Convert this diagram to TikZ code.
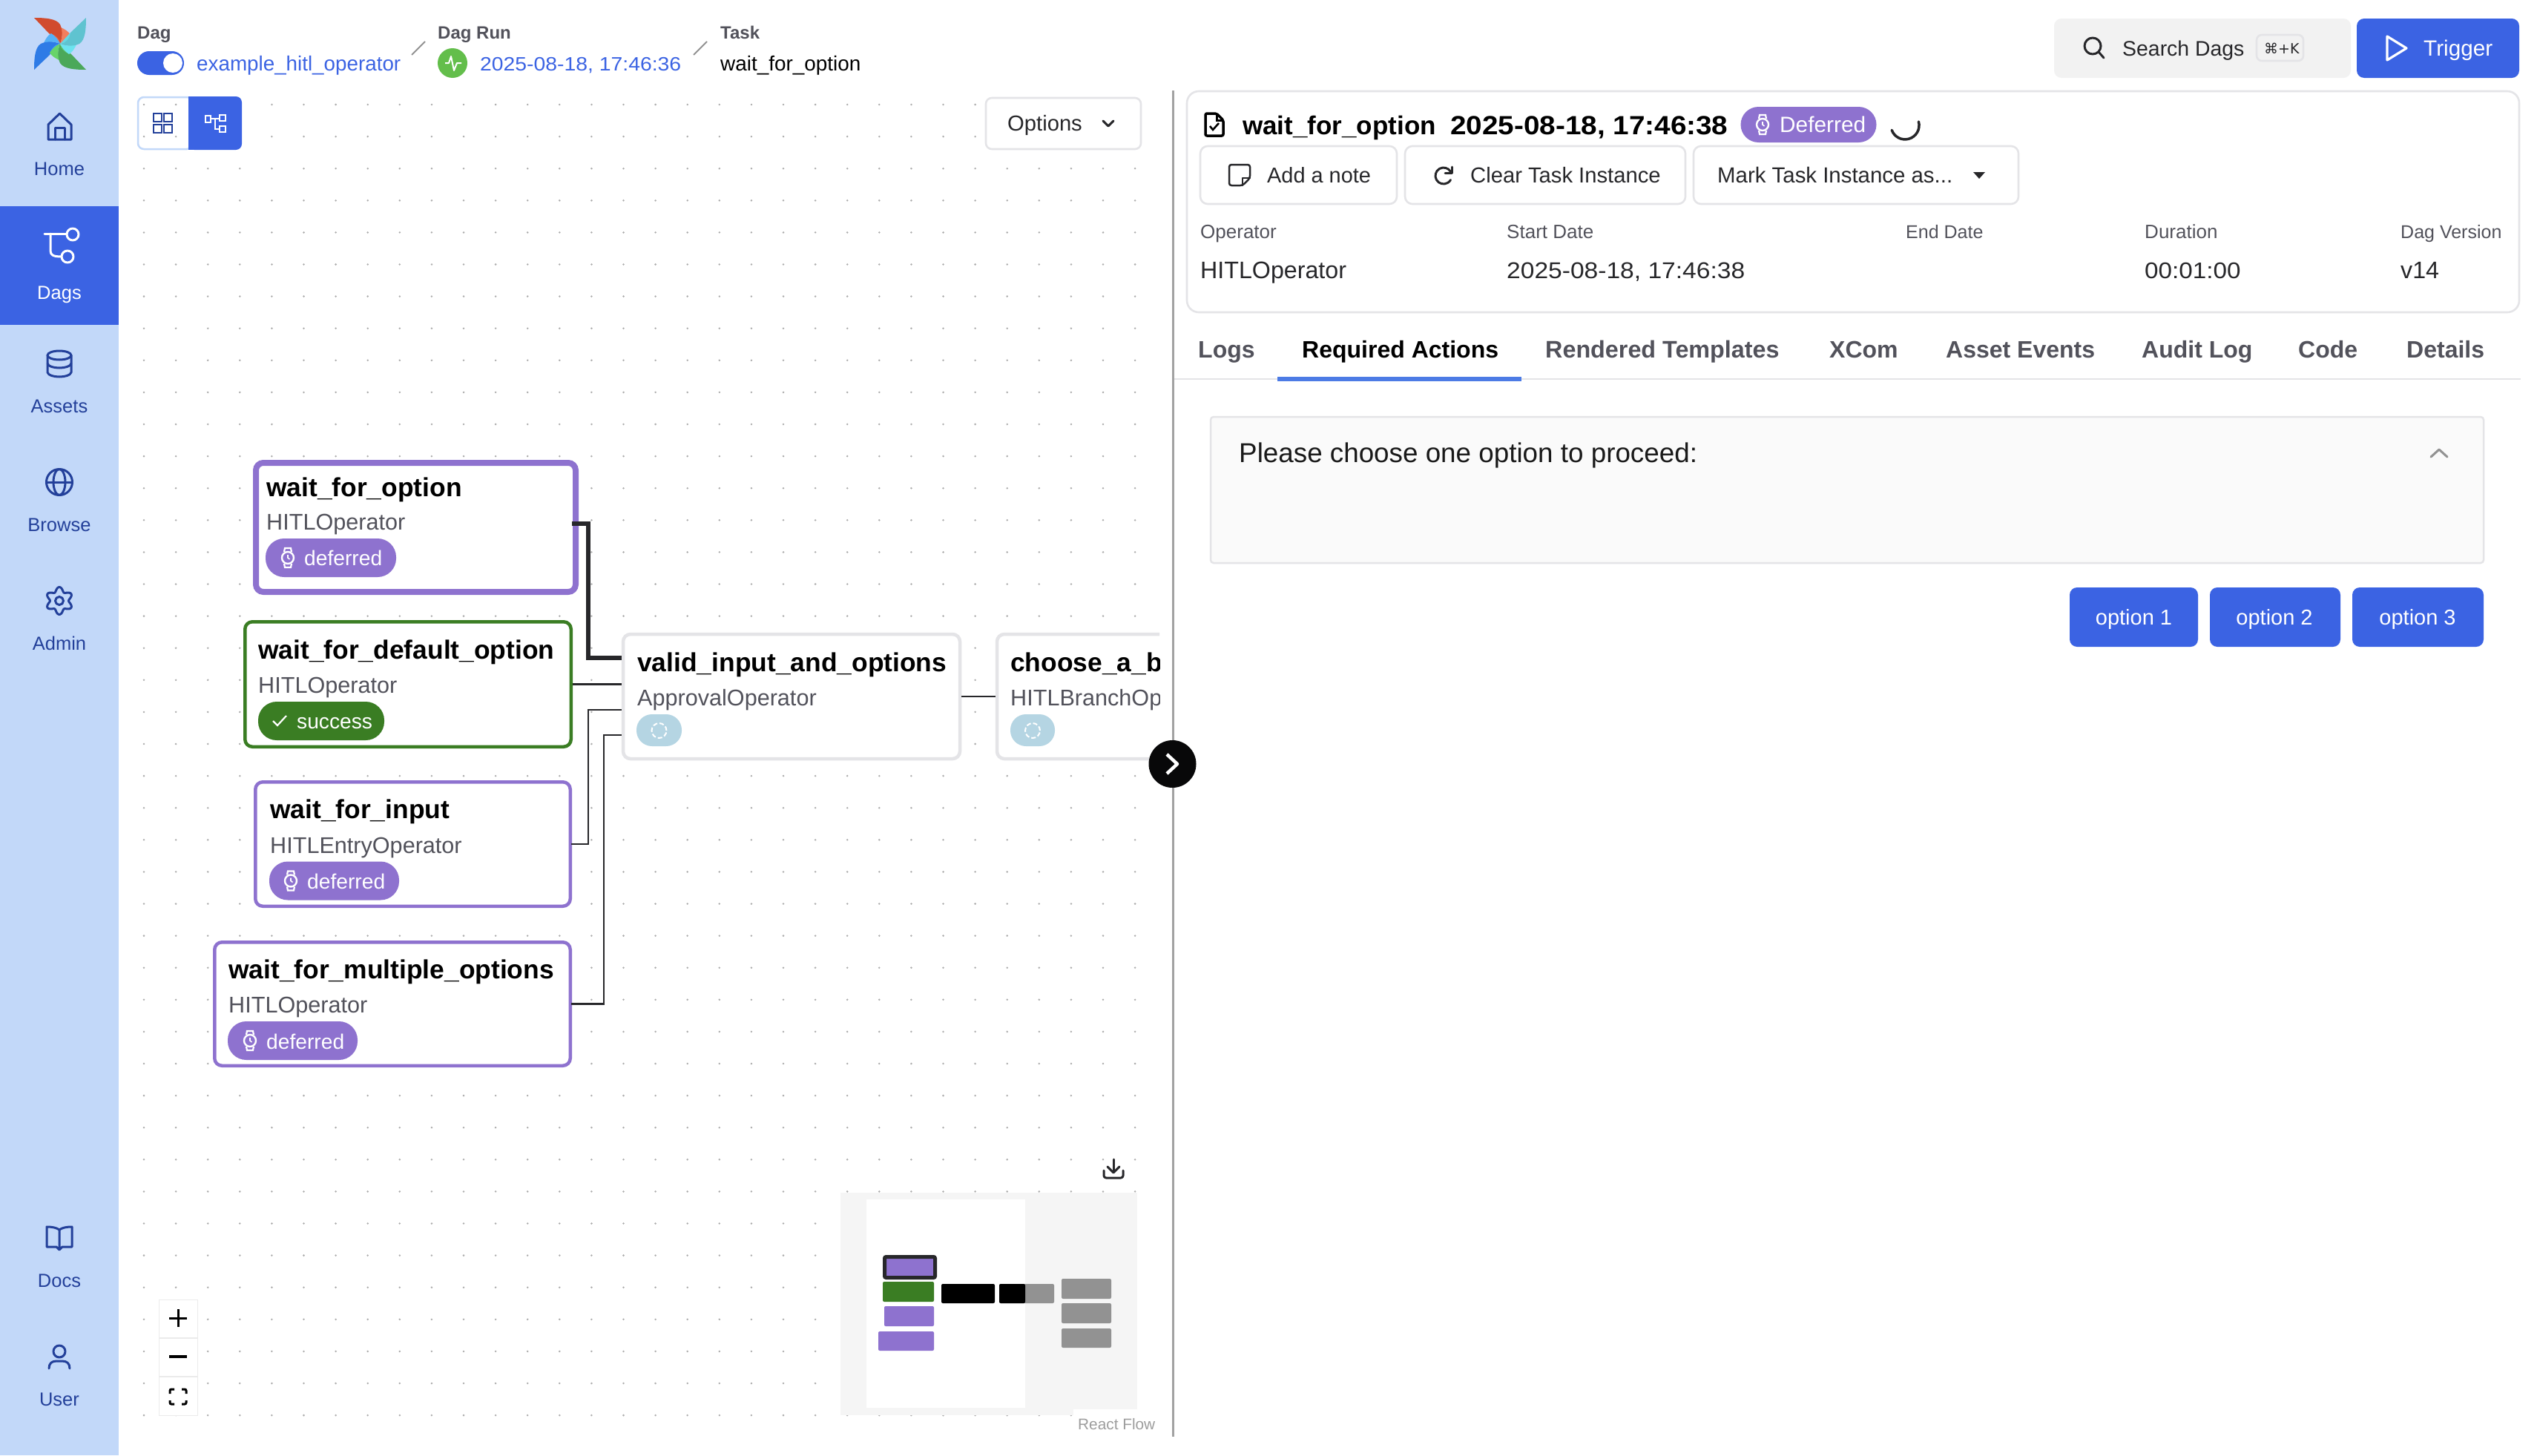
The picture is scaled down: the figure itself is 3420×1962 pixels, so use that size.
\documentclass[tikz,border=0pt]{standalone}
\usepackage{fontspec}
\usepackage{xcolor}
\usepackage{tikz}
\usetikzlibrary{positioning,calc}
\setmainfont{Liberation Sans}
\newfontfamily\widefont[FakeStretch=1.09]{Liberation Sans}
\newfontfamily\symfont{DejaVu Sans}
\definecolor{SideBlue}{HTML}{C2D8F9}
\definecolor{SideInk}{HTML}{23409A}
\definecolor{MainBlue}{HTML}{3B63E3}
\definecolor{TabBlue}{HTML}{4C7BE5}
\definecolor{DeferPurple}{HTML}{8E72CF}
\definecolor{GoodGreen}{HTML}{3A7D23}
\definecolor{PulseGreen}{HTML}{63BE4B}
\definecolor{PaleLine}{HTML}{E4E4E7}
\definecolor{SoftInk}{HTML}{52525B}
\definecolor{DarkInk}{HTML}{27272A}
\definecolor{MapGray}{HTML}{929292}
\definecolor{StatusBlue}{HTML}{B5D5E3}
\tikzset{
    watchicon/.pic={
        \draw[white, line width=2.4pt] (0,0) circle[radius=8pt];
        \draw[white, line width=2.2pt] (-5,-8) -- (-4,-13) -- (4,-13) -- (5,-8);
        \draw[white, line width=2.2pt] (-5,8) -- (-4,13) -- (4,13) -- (5,8);
        \draw[white, line width=1.6pt] (0,-4) -- (0,0) -- (2.5,2);
    }
}

\begin{document}
\begin{tikzpicture}[
                x=1pt, y=-1pt,
                taskbox/.style={
                    draw=PaleLine,
                    fill=white,
                    line width=4.5pt,
                    rounded corners=10pt,
                    inner sep=0pt
                },
                tasktitle/.style={anchor=base west, inner sep=0pt, font=\fontsize{35.4}{40}\selectfont\bfseries},
                taskop/.style={anchor=base west, inner sep=0pt, text=SoftInk, font=\fontsize{30.6}{36}\selectfont},
                statepill/.style={fill=DeferPurple, rounded corners=25pt, minimum height=52pt, inner sep=0pt},
                statetext/.style={anchor=base west, inner sep=0pt, text=white, font=\fontsize{28.2}{32}\selectfont},
                edge/.style={draw=DarkInk, line width=2.6pt},
                edgebold/.style={draw=DarkInk, line width=5.5pt},
                sidelabel/.style={anchor=base, inner sep=0pt, text=SideInk, font=\fontsize{25.5}{30}\selectfont},
                sideicon/.style={draw=SideInk, line width=3pt, line join=round, line cap=round},
                crumbhead/.style={anchor=base west, inner sep=0pt, text=SoftInk, font=\fontsize{24}{28}\selectfont\bfseries},
                crumblink/.style={anchor=base west, inner sep=0pt, text=MainBlue, font=\fontsize{27.8}{32}\selectfont},
                slashline/.style={draw=MapGray, line width=2pt},
                plainline/.style={draw=PaleLine, line width=2.6pt},
                btnlabel/.style={anchor=base west, inner sep=0pt, text=DarkInk, font=\fontsize{29.2}{34}\selectfont},
                metahead/.style={anchor=base west, inner sep=0pt, text=SoftInk, font=\fontsize{26}{30}\selectfont},
                metavalue/.style={anchor=base west, inner sep=0pt, text=DarkInk, font=\fontsize{32.2}{36}\selectfont},
                tablabel/.style={anchor=base west, inner sep=0pt, text=SoftInk, font=\fontsize{32}{36}\selectfont\bfseries},
                darkicon/.style={draw=DarkInk, line width=3pt, line join=round, line cap=round},
                bluebtn/.style={fill=MainBlue, rounded corners=10pt, inner sep=0pt},
                bluelabel/.style={anchor=base, inner sep=0pt, text=white, font=\fontsize{29}{34}\selectfont},
                mapbox/.style={rounded corners=2pt}
            ]
                \useasboundingbox (0,0) rectangle (3420,1962);
                \fill[white] (0,0) rectangle (3420,1962);

                % left bar
                \fill[SideBlue] (0,0) rectangle (160,1962);
                \fill[MainBlue] (0,278) rectangle (160,438);
                \foreach \ang/\dark/\light in {0/D14B2E/F27E5E, 90/2E7BE6/55B0F6, 180/4BA85A/67D46A, 270/5FC3D0/6CE3EF} {
                    \begin{scope}[shift={(81,59)}, rotate=\ang]
                        \definecolor{petallight}{HTML}{\light}
                        \definecolor{petaldark}{HTML}{\dark}
                        \fill[petallight] (0,0) .. controls (4,-8) and (2,-16) .. (1,-22) .. controls (6,-20) and (12,-16) .. (14,-12) .. controls (10,-6) and (5,-2) .. (0,0);
                        \fill[petallight!60!petaldark] (0,0) -- (-15,-14) -- (-4,-16) -- cycle;
                        \fill[petaldark] (-35,-35) .. controls (-20,-35) and (-5,-34) .. (0,-26) .. controls (3,-20) and (4,-10) .. (0,0) .. controls (0,-6) and (-6,-13) .. (-15,-14) -- cycle;
                    \end{scope}
                }
                \node[sidelabel] (home) at (80,236) {Home};
                \node[sidelabel, text=white] (dags) at (80,403.5) {Dags};
                \node[sidelabel] (assets) at (80,556) {Assets};
                \node[sidelabel] (browse) at (80,716) {Browse};
                \node[sidelabel] (admin) at (80,876) {Admin};
                \node[sidelabel] (docs) at (80,1735.5) {Docs};
                \node[sidelabel] (user) at (80,1895.5) {User};

                \draw[sideicon] (65,188) -- (65,168) -- (80.5,153) -- (96,168) -- (96,188) -- cycle;
                \draw[sideicon] (74,188) -- (74,172) -- (87,172) -- (87,188);
                \draw[sideicon, draw=white] (60,315) -- (90,315);
                \draw[sideicon, draw=white] (68,315) -- (68,338) .. controls (68,344) and (72,346) .. (83,346);
                \draw[sideicon, draw=white] (98,316) circle[radius=8pt];
                \draw[sideicon, draw=white] (91,346) circle[radius=8pt];
                \draw[sideicon] (80,479) ellipse[x radius=16pt, y radius=6pt];
                \draw[sideicon] (64,479) -- (64,502) .. controls (66,510) and (94,510) .. (96,502) -- (96,479);
                \draw[sideicon] (64,490) .. controls (66,498) and (94,498) .. (96,490);
                \draw[sideicon] (80,650) circle[radius=17.5pt];
                \draw[sideicon] (80,650) ellipse[x radius=8pt, y radius=17.5pt];
                \draw[sideicon] (63,650) -- (97,650);
                \draw[sideicon] plot[smooth cycle, domain=0:355, samples=72] ({80+(15.5+3*cos(6*\x+180))*cos(\x)},{810+(15.5+3*cos(6*\x+180))*sin(\x)});
                \draw[sideicon] (80,810) circle[radius=5.5pt];
                \draw[sideicon] (80,1658) .. controls (76,1655) and (70,1654) .. (63,1654) -- (63,1681) -- (76,1681) -- (80,1685) -- (84,1681) -- (97,1681) -- (97,1654) .. controls (90,1654) and (84,1655) .. (80,1658) -- (80,1681);
                \draw[sideicon] (80,1822) circle[radius=8pt];
                \draw[sideicon] (66,1845) .. controls (66,1838) and (70,1835) .. (76,1835) -- (84,1835) .. controls (90,1835) and (94,1838) .. (94,1845);

                % dotted pane
                \foreach \i in {0,...,31} {
                    \foreach \j in {0,...,41} {
                        \fill[MapGray!75!white] ({194+43.1*\i},{141+43.1*\j}) circle[radius=1.4pt];
                    }
                }

                % top line
                \node[crumbhead] (daghead) at (185,52) {Dag};
                \node[crumbhead] (runhead) at (590,52) {Dag Run};
                \node[crumbhead] (taskhead) at (971,52) {Task};
                \fill[MainBlue, rounded corners=16pt] (185,69) rectangle (248,101);
                \fill[white] (233,85) circle[radius=13pt];
                \node[crumblink] (dagname) at (265,95) {example\_hitl\_operator};
                \draw[slashline] (555,74) -- (573,56);
                \fill[PulseGreen] (610,85) circle[radius=20pt];
                \draw[white, line width=2pt, line join=round] (600,85) -- (605,85) -- (608,76) -- (612,95) -- (616,85) -- (622,85);
                \node[crumblink, font=\fontsize{26}{32}\selectfont\widefont] (runname) at (647,95) {2025-08-18, 17:46:36};
                \draw[slashline] (935,74) -- (953,56);
                \node[crumblink, text=black, font=\fontsize{27.9}{32}\selectfont] (taskname) at (971,95) {wait\_for\_option};

                \fill[black!5, rounded corners=10pt] (2769,25) rectangle (3169,105);
                \draw[darkicon] (2821,62) circle[radius=11pt];
                \draw[darkicon] (2829,70) -- (2836,78);
                \node[btnlabel, font=\fontsize{28.4}{34}\selectfont] (searchdags) at (2861,75) {Search Dags};
                \draw[plainline, fill=black!5, rounded corners=7pt] (3042,47) rectangle (3105,82);
                \node[btnlabel, font=\fontsize{19}{24}\selectfont\symfont] (searchkey) at (3052,72) {⌘+K};
                \fill[MainBlue, rounded corners=10pt] (3177,25) rectangle (3396,105);
                \draw[white, line width=3.2pt, line join=round] (3218,49) -- (3218,81) -- (3244,65) -- cycle;
                \node[bluelabel, anchor=base west, font=\fontsize{29.7}{34}\selectfont] (trigger) at (3267,75) {Trigger};

                % view buttons
                \draw[draw=SideBlue, line width=2.5pt, rounded corners=8pt] (186,131) rectangle (260,201);
                \fill[MainBlue, rounded corners=8pt] (254,130) rectangle (326,202);
                \fill[MainBlue] (254,130) rectangle (270,202);
                \foreach \px/\py in {207/153, 221/153, 207/168, 221/168} {
                    \draw[draw=SideInk, line width=2.4pt] (\px,\py) rectangle ({\px+11},{\py+11});
                }
                \draw[white, line width=2.2pt] (277,156) rectangle (284,165);
                \draw[white, line width=2.2pt] (296,155) rectangle (304,163);
                \draw[white, line width=2.2pt] (296,170) rectangle (304,178);
                \draw[white, line width=2.2pt] (284,160) -- (296,160);
                \draw[white, line width=2.2pt] (290,160) -- (290,174) -- (296,174);
                \draw[plainline, fill=white, rounded corners=8pt] (1329,132) rectangle (1538,201);
                \node[btnlabel] (optionsbtn) at (1358,176) {Options};
                \draw[darkicon] (1487,163) -- (1494,170) -- (1501,163);

                % graph
                \node[taskbox, draw=DeferPurple, line width=8pt, minimum width=431pt, minimum height=174pt] (waitoption) at (560.5,711) {};
                \node[taskbox, draw=GoodGreen, minimum width=439.5pt, minimum height=168.5pt] (waitdefault) at (550,922.5) {};
                \node[taskbox, draw=DeferPurple, minimum width=424.5pt, minimum height=167.5pt] (waitinput) at (556.5,1138) {};
                \node[taskbox, draw=DeferPurple, minimum width=479.5pt, minimum height=166.5pt] (waitmultiple) at (529,1353.5) {};
                \node[taskbox, minimum width=454pt, minimum height=168pt] (validinput) at (1067,939) {};
                \begin{scope}
                    \clip (1330,840) rectangle (1563,1040);
                    \node[taskbox, minimum width=356pt, minimum height=168pt] (choosebranch) at (1522,939) {};
                    \node[tasktitle] (choosetitle) at (1362,905) {choose\_a\_b};
                    \node[taskop] (chooseop) at (1362,951) {HITLBranchOp};
                \end{scope}

                \node[tasktitle] (optiontitle) at (359,669) {wait\_for\_option};
                \node[taskop] (optionop) at (359,714) {HITLOperator};
                \node[statepill, minimum width=176pt] (optionpill) at (446,752) {};
                \pic at (388,752) {watchicon};
                \node[statetext] (optionstate) at (410,762) {deferred};

                \node[tasktitle] (defaulttitle) at (348,888) {wait\_for\_default\_option};
                \node[taskop] (defaultop) at (348,934) {HITLOperator};
                \node[statepill, fill=GoodGreen, minimum width=170pt] (defaultpill) at (433,972) {};
                \draw[white, line width=2.2pt] (368,972) -- (374,978) -- (386,965);
                \node[statetext] (defaultstate) at (400,982.5) {success};

                \node[tasktitle] (inputtitle) at (364,1103) {wait\_for\_input};
                \node[taskop] (inputop) at (364,1150) {HITLEntryOperator};
                \node[statepill, minimum width=175pt] (inputpill) at (450.5,1187.5) {};
                \pic at (392,1187.5) {watchicon};
                \node[statetext] (inputstate) at (414,1198) {deferred};

                \node[tasktitle] (multipletitle) at (308,1319) {wait\_for\_multiple\_options};
                \node[taskop] (multipleop) at (308,1365) {HITLOperator};
                \node[statepill, minimum width=175pt] (multiplepill) at (394.5,1403) {};
                \pic at (337,1403) {watchicon};
                \node[statetext] (multiplestate) at (359,1414) {deferred};

                \node[tasktitle] (validtitle) at (859,905) {valid\_input\_and\_options};
                \node[taskop] (validop) at (859,951) {ApprovalOperator};
                \fill[StatusBlue, rounded corners=21pt] (858,963) rectangle (919,1006);
                \draw[white, line width=2pt, dash pattern=on 6pt off 3pt] (888.5,985) circle[radius=10pt];
                \fill[StatusBlue, rounded corners=21pt] (1362,963) rectangle (1422,1006);
                \draw[white, line width=2pt, dash pattern=on 6pt off 3pt] (1392,985) circle[radius=10pt];

                \draw[edgebold] ([xshift=-9pt,yshift=5pt]waitoption.east) -- ++(22,0) |- ([yshift=52pt]validinput.west);
                \draw[edge] (waitdefault.east) -- (waitdefault.east -| validinput.west);
                \draw[edge] ([xshift=-1pt]waitinput.east) -- ++(23,0) |- ([yshift=-18pt]validinput.west);
                \draw[edge] ([xshift=-1pt]waitmultiple.east) -- ++(44,0) |- ([yshift=-52pt]validinput.west);
                \draw[edge] (validinput.east) -- (validinput.east -| choosebranch.west);

                % pane divider
                \fill[MapGray!85!white] (1579.5,122) rectangle (1583,1937);
                \fill[black!90!SoftInk] (1580.5,1030) circle[radius=32pt];
                \draw[white, line width=4.5pt, line join=round] (1573,1017) -- (1587,1030) -- (1573,1043);

                % map and controls
                \fill[black!4] (1133,1608) rectangle (1533,1908);
                \fill[white] (1168,1617) rectangle (1382,1898);
                \fill[white] (1447,1900) rectangle (1560,1935);
                \fill[DeferPurple, mapbox] (1192.5,1694.5) rectangle (1260.5,1722.5);
                \draw[DarkInk, line width=5pt, mapbox] (1192.5,1694.5) rectangle (1260.5,1722.5);
                \fill[GoodGreen, mapbox] (1190,1728) rectangle (1259,1755);
                \fill[DeferPurple, mapbox] (1192,1761) rectangle (1259,1788);
                \fill[DeferPurple, mapbox] (1184,1795) rectangle (1259,1821);
                \fill[black, mapbox] (1269,1731) rectangle (1341,1757);
                \fill[MapGray, mapbox] (1347,1731) rectangle (1421,1757);
                \fill[black, mapbox] (1347,1731) rectangle (1382,1757);
                \fill[MapGray, mapbox] (1431,1724) rectangle (1498,1751);
                \fill[MapGray, mapbox] (1431,1757) rectangle (1498,1784);
                \fill[MapGray, mapbox] (1431,1791) rectangle (1498,1817);
                \node[anchor=base west, inner sep=0pt, text=MapGray!90!white, font=\fontsize{20.8}{24}\selectfont] (reactflow) at (1453,1927) {React Flow};
                \draw[darkicon] (1501,1563) -- (1501,1580);
                \draw[darkicon] (1493,1573) -- (1501,1581) -- (1509,1573);
                \draw[darkicon, rounded corners=3pt] (1488,1578) -- (1488,1588) -- (1514,1588) -- (1514,1578);
                \draw[draw=black!8, fill=white, line width=1pt] (214,1752) rectangle (266,1908);
                \draw[draw=black!8, line width=2pt] (214,1803.5) -- (266,1803.5);
                \draw[draw=black!8, line width=2pt] (214,1855.5) -- (266,1855.5);
                \draw[black, line width=3pt] (228,1777) -- (252,1777);
                \draw[black, line width=3pt] (240,1765) -- (240,1789);
                \draw[black, line width=3.5pt] (228,1829) -- (252,1829);
                \draw[black, line width=3pt, rounded corners=2pt] (229,1879) -- (229,1873) -- (235,1873);
                \draw[black, line width=3pt, rounded corners=2pt] (245,1873) -- (251,1873) -- (251,1879);
                \draw[black, line width=3pt, rounded corners=2pt] (251,1888) -- (251,1893) -- (245,1893);
                \draw[black, line width=3pt, rounded corners=2pt] (235,1893) -- (229,1893) -- (229,1888);

                % task header card
                \draw[plainline, rounded corners=16pt] (1600,123) rectangle (3396,421);
                \draw[black, line width=3.5pt, line join=round, rounded corners=2pt] (1625,153) -- (1640,153) -- (1649,162) -- (1649,183) -- (1625,183) -- cycle;
                \draw[black, line width=3pt] (1640,153) -- (1640,162) -- (1649,162);
                \draw[black, line width=2.6pt] (1631,170) -- (1635,175) -- (1643,166);
                \node[tasktitle, font=\fontsize{35}{40}\selectfont\bfseries] (headtitle) at (1675,181) {wait\_for\_option};
                \node[tasktitle, font=\fontsize{35.5}{40}\selectfont\bfseries\widefont] (headdate) at (1955,181) {2025-08-18, 17:46:38};
                \node[statepill, rounded corners=24pt, minimum width=183pt, minimum height=48pt] (headpill) at (2438,168) {};
                \pic at (2376,168) {watchicon};
                \node[statetext, font=\fontsize{29.8}{34}\selectfont] (headstate) at (2399,178) {Deferred};
                \draw[DarkInk, line width=3.5pt, line cap=round] (2586.4,164) arc[start angle=15, end angle=-160, radius=19pt];

                \draw[plainline, rounded corners=10pt] (1618,197) rectangle (1883,275);
                \draw[plainline, rounded corners=10pt] (1894,197) rectangle (2272,275);
                \draw[plainline, rounded corners=10pt] (2283,197) rectangle (2721,275);
                \draw[darkicon, line width=2.5pt, rounded corners=3pt] (1657,222) -- (1685,222) -- (1685,240) -- (1675,250) -- (1657,250) -- cycle;
                \draw[darkicon, line width=2.2pt] (1675,250) -- (1675,240) -- (1685,240);
                \node[btnlabel, font=\fontsize{28.9}{34}\selectfont] (addnote) at (1708,246) {Add a note};
                \draw[darkicon] (1955.5,231.5) arc[start angle=30, end angle=330, radius=11pt];
                \draw[darkicon] (1957,225) -- (1957,233) -- (1948,233);
                \node[btnlabel] (clearinstance) at (1982,246) {Clear Task Instance};
                \node[btnlabel, font=\fontsize{29.4}{34}\selectfont] (markinstance) at (2315,246) {Mark Task Instance as...};
                \fill[DarkInk] (2660,232) -- (2676,232) -- (2668,241) -- cycle;

                \node[metahead] (operatorhead) at (1618,321) {Operator};
                \node[metahead] (starthead) at (2031,321) {Start Date};
                \node[metahead, font=\fontsize{25}{30}\selectfont] (endhead) at (2569,321) {End Date};
                \node[metahead] (durationhead) at (2891,321) {Duration};
                \node[metahead, font=\fontsize{25}{30}\selectfont] (versionhead) at (3236,321) {Dag Version};
                \node[metavalue] (operatorvalue) at (1618,375) {HITLOperator};
                \node[metavalue, font=\fontsize{30.8}{36}\selectfont\widefont] (startvalue) at (2031,375) {2025-08-18, 17:46:38};
                \node[metavalue, font=\fontsize{30.5}{36}\selectfont\widefont] (durationvalue) at (2891,375) {00:01:00};
                \node[metavalue] (versionvalue) at (3236,375) {v14};

                % tabs
                \node[tablabel] (logstab) at (1615,482) {Logs};
                \node[tablabel, text=black] (actionstab) at (1755,482) {Required Actions};
                \node[tablabel, font=\fontsize{32.3}{36}\selectfont\bfseries] (templatestab) at (2083,482) {Rendered Templates};
                \node[tablabel] (xcomtab) at (2466,482) {XCom};
                \node[tablabel] (eventstab) at (2623,482) {Asset Events};
                \node[tablabel] (audittab) at (2887,482) {Audit Log};
                \node[tablabel] (codetab) at (3098,482) {Code};
                \node[tablabel] (detailstab) at (3244,482) {Details};
                \draw[plainline] (1583,511) -- (3398,511);
                \fill[TabBlue] (1722,508) rectangle (2051,514);

                % required actions
                \draw[draw=PaleLine, fill=black!2, line width=2.5pt, rounded corners=4pt] (1632,562) rectangle (3348,759);
                \node[anchor=base west, inner sep=0pt, text=black!90, font=\fontsize{36.8}{42}\selectfont] (proceedtext) at (1670,623) {Please choose one option to proceed:};
                \draw[draw=MapGray, line width=3pt, line join=round, line cap=round] (3277,616) -- (3288,606) -- (3299,616);
                \node[bluebtn, minimum width=173pt, minimum height=80pt] (optionone) at (2876.5,832) {};
                \node[bluebtn, minimum width=176pt, minimum height=80pt] (optiontwo) at (3067,832) {};
                \node[bluebtn, minimum width=177pt, minimum height=80pt] (optionthree) at (3259.5,832) {};
                \node[bluelabel] (optiononetext) at (2876.5,842) {option 1};
                \node[bluelabel] (optiontwotext) at (3066,842) {option 2};
                \node[bluelabel] (optionthreetext) at (3259,842) {option 3};
            \end{tikzpicture}
\end{document}
